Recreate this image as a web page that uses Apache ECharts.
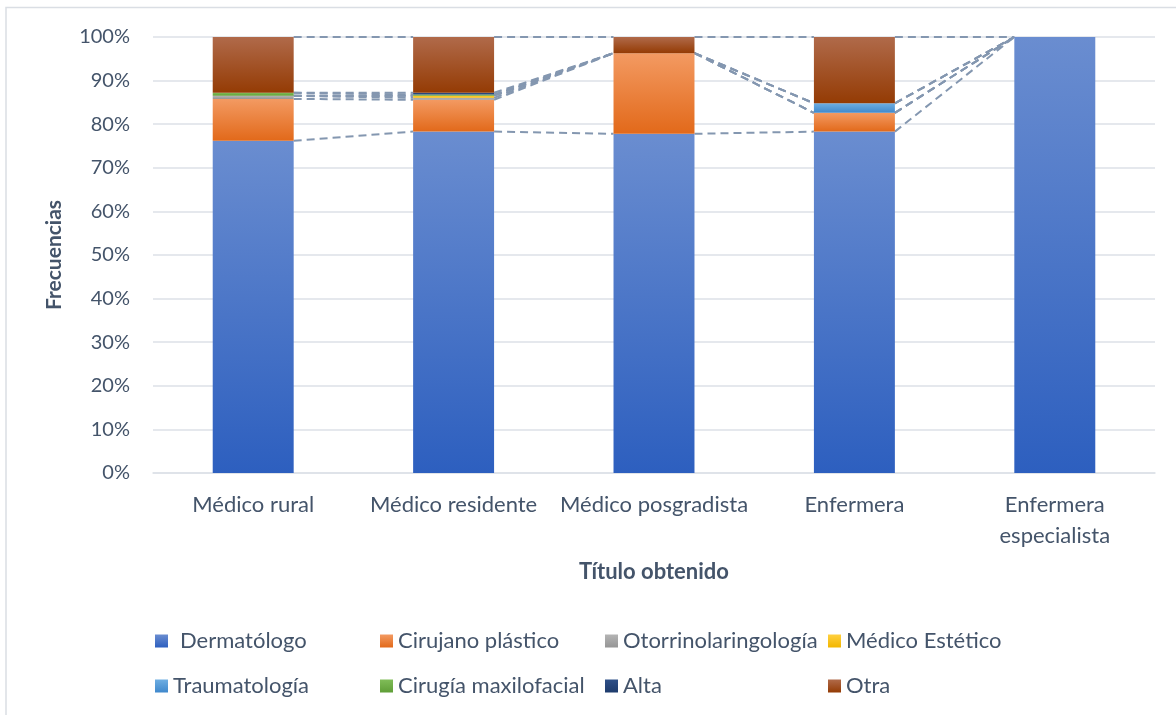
<!DOCTYPE html>
<html>
<head>
<meta charset="utf-8">
<script src="https://cdn.jsdelivr.net/npm/echarts@6/dist/echarts.min.js"></script>
<style>
html,body{margin:0;padding:0;background:#fff;}
#chart{width:1176px;height:715px;}
</style>
</head>
<body>
<div id="chart"></div>
<script>
// ---- data (percent of each category) ----
const categories = ['Médico rural', 'Médico residente', 'Médico posgradista', 'Enfermera', 'Enfermera especialista'];
const seriesNames = ['Dermatólogo', 'Cirujano plástico', 'Otorrinolaringología', 'Médico Estético', 'Traumatología', 'Cirugía maxilofacial', 'Alta', 'Otra'];
const dermatologo         = [76.2, 78.3, 77.8, 78.3, 100];
const cirujanoPlastico    = [9.6, 7.3, 18.5, 4.3, 0];
const otorrinolaringologia= [0.7, 0.45, 0, 0, 0];
const medicoEstetico      = [0, 0.5, 0, 0, 0];
const traumatologia       = [0, 0, 0, 2.2, 0];
const cirugiaMaxilofacial = [0.7, 0.25, 0, 0, 0];
const alta                = [0, 0.4, 0, 0, 0];
const otra                = [12.8, 12.8, 3.7, 15.2, 0];
const yTickLabels = ['0%', '10%', '20%', '30%', '40%', '50%', '60%', '70%', '80%', '90%', '100%'];

const seriesValues = [dermatologo, cirujanoPlastico, otorrinolaringologia, medicoEstetico, traumatologia, cirugiaMaxilofacial, alta, otra];

// ---- styles ----
const FONT = 'Lato';
const TXT = '#44546a';
function grad(top, bottom) {
  return new echarts.graphic.LinearGradient(0, 0, 0, 1, [
    { offset: 0, color: top }, { offset: 1, color: bottom }
  ]);
}
const fills = [
  grad('#6a8dd0', '#2d5fbf'),
  grad('#f39a62', '#e2691a'),
  grad('#b4b4b4', '#959595'),
  grad('#ffd040', '#f2b600'),
  grad('#6eaee2', '#3f88cc'),
  grad('#80bd58', '#5f9e37'),
  grad('#2f5088', '#1e3b6c'),
  grad('#b06a4a', '#943b04')
];

// cumulative tops for series lines
const cum = [];
let running = categories.map(() => 0);
seriesValues.forEach(vals => {
  running = running.map((r, i) => r + vals[i]);
  cum.push(running.slice());
});
const lineData = [];
cum.forEach(tops => {
  for (let i = 0; i < categories.length - 1; i++) {
    lineData.push([i, tops[i], tops[i + 1]]);
  }
});

const BAR_FRAC = 0.404;

const series = seriesNames.map((name, k) => ({
  name: name,
  type: 'bar',
  stack: 'total',
  barWidth: (BAR_FRAC * 100) + '%',
  data: seriesValues[k],
  itemStyle: { color: fills[k] },
  emphasis: { disabled: true },
  z: 3
}));

series.push({
  type: 'custom',
  name: 'seriesLines',
  data: lineData,
  encode: { x: 0, y: [1, 2] },
  z: 2,
  silent: true,
  renderItem: function (params, api) {
    const i = api.value(0);
    const p0 = api.coord([i, api.value(1)]);
    const p1 = api.coord([i + 1, api.value(2)]);
    const band = api.size([1, 0])[0];
    const half = band * BAR_FRAC / 2;
    return {
      type: 'line',
      shape: { x1: p0[0] + half, y1: p0[1], x2: p1[0] - half, y2: p1[1] },
      style: { stroke: '#8497b0', lineWidth: 2, lineDash: [8, 5], fill: null }
    };
  }
});

const legendLefts = [155, 380, 605, 828];
const legendTops = [630, 675];
const legends = seriesNames.map((name, k) => ({
  data: [name],
  left: legendLefts[k % 4],
  top: legendTops[Math.floor(k / 4)],
  padding: 0,
  itemWidth: 13,
  itemHeight: 13,
  icon: 'rect',
  selectedMode: false,
  textStyle: {
    fontFamily: FONT, fontSize: 22, color: TXT, lineHeight: 22,
    padding: k === 0 ? [0, 0, 0, 7] : 0
  }
}));

const chart = echarts.init(document.getElementById('chart'), null, { renderer: 'canvas' });
chart.setOption({
  animation: false,
  backgroundColor: '#ffffff',
  graphic: [{
    type: 'rect',
    shape: { x: 6, y: 7.5, width: 1300, height: 900 },
    style: { fill: null, stroke: '#dadee4', lineWidth: 1.5 },
    silent: true, z: -10
  }],
  grid: { left: 153, right: 21, top: 37, bottom: 242 },
  legend: legends,
  xAxis: {
    type: 'category',
    data: categories,
    name: 'Título obtenido',
    nameLocation: 'middle',
    nameGap: 88,
    nameTextStyle: { fontFamily: FONT, fontSize: 22, fontWeight: 'bold', color: TXT },
    axisTick: { show: false },
    axisLine: { show: true, lineStyle: { color: '#dde1e7', width: 1.5 } },
    axisLabel: {
      fontFamily: FONT, fontSize: 22, color: TXT, margin: 16, lineHeight: 31,
      interval: 0,
      formatter: v => v === 'Enfermera especialista' ? 'Enfermera\nespecialista' : v
    }
  },
  yAxis: {
    type: 'value',
    min: 0, max: 100, interval: 10,
    name: 'Frecuencias',
    nameLocation: 'middle',
    nameGap: 88,
    nameRotate: 90,
    nameTextStyle: { fontFamily: FONT, fontSize: 21, fontWeight: 'bold', color: TXT },
    axisLine: { show: false },
    axisTick: { show: false },
    splitLine: { lineStyle: { color: '#dde1e7', width: 1.5 } },
    axisLabel: {
      fontFamily: FONT, fontSize: 20, color: TXT, margin: 23,
      formatter: v => yTickLabels[Math.round(v / 10)]
    }
  },
  series: series
});
</script>
</body>
</html>
